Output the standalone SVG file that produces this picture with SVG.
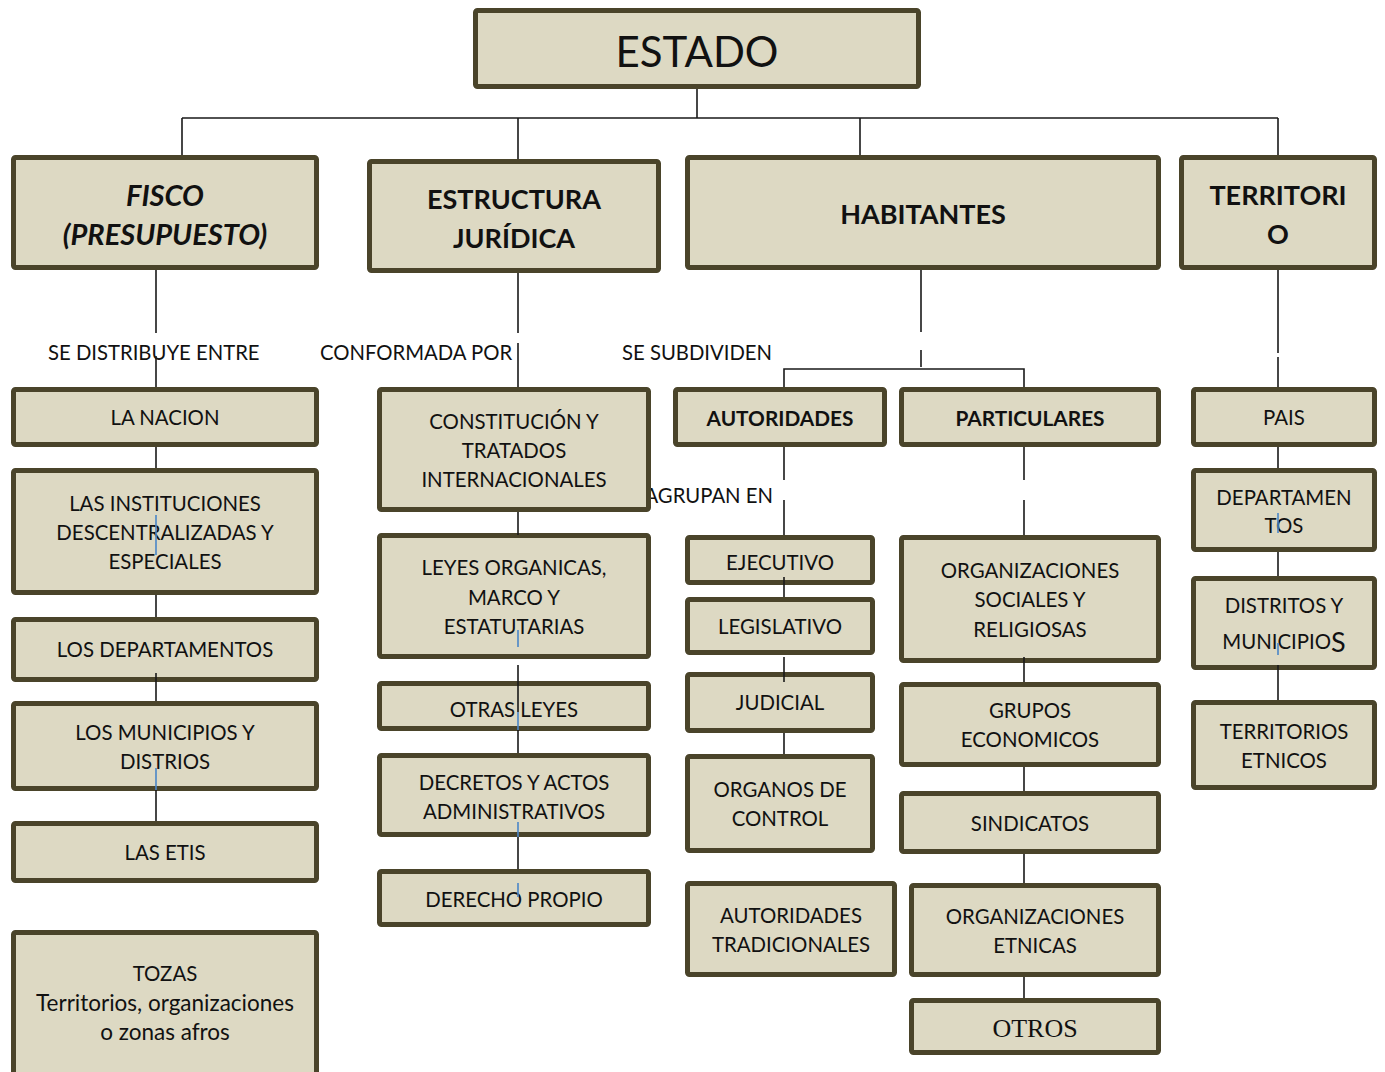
<svg xmlns="http://www.w3.org/2000/svg" width="1385" height="1072" viewBox="0 0 1385 1072">
<style>
.bx{fill:#DDD9C3;stroke:#4A442A;stroke-width:5;}
.t{font-family:Lato,"Open Sans","Liberation Sans",sans-serif;font-size:20.4px;fill:#111;text-anchor:middle;dominant-baseline:central;}
.h{font-weight:bold;font-size:27px;}
.hi{font-weight:bold;font-style:italic;font-size:29px;}
.hb{font-weight:bold;font-size:20.8px;}
.lbl{font-family:Lato,"Open Sans","Liberation Sans",sans-serif;font-size:20.3px;fill:#111;dominant-baseline:central;}
.c{stroke:#1a1a1a;stroke-width:1.6;fill:none;}
.b{stroke:#4A86C8;stroke-width:1.6;fill:none;}
</style>
<rect width="1385" height="1072" fill="#fff"/>
<g id="labels">
<text class="lbl" x="48" y="352">SE DISTRIBUYE ENTRE</text>
<text class="lbl" x="320" y="352">CONFORMADA POR</text>
<text class="lbl" x="622" y="352">SE SUBDIVIDEN</text>
<text class="lbl" x="773" y="495" text-anchor="end">AGRUPAN EN</text>
</g>
<g id="estado"><rect class="bx" x="475.5" y="10.5" width="443" height="76" rx="2"/><text class="t" x="697" y="51" style="font-size:42px">ESTADO</text></g>
<g id="fisco"><rect class="bx" x="13.5" y="157.5" width="303" height="110" rx="2"/><text class="t hi" x="165" y="194">FISCO</text><text class="t hi" x="165" y="233">(PRESUPUESTO)</text></g>
<g id="estructura"><rect class="bx" x="369.5" y="161.5" width="289" height="109" rx="2"/><text class="t h" x="514" y="198">ESTRUCTURA</text><text class="t h" x="514" y="237">JURÍDICA</text></g>
<g id="habitantes"><rect class="bx" x="687.5" y="157.5" width="471" height="110" rx="2"/><text class="t h" x="923" y="213">HABITANTES</text></g>
<g id="territorio"><rect class="bx" x="1181.5" y="157.5" width="193" height="110" rx="2"/><text class="t h" x="1278" y="194">TERRITORI</text><text class="t h" x="1278" y="233">O</text></g>

<g id="nacion"><rect class="bx" x="13.5" y="389.5" width="303" height="55" rx="2"/><text class="t" x="165" y="417">LA NACION</text></g>
<g id="instituciones"><rect class="bx" x="13.5" y="470.5" width="303" height="122" rx="2"/><text class="t" x="165" y="503">LAS INSTITUCIONES</text><text class="t" x="165" y="532">DESCENTRALIZADAS Y</text><text class="t" x="165" y="561">ESPECIALES</text></g>
<g id="departamentos"><rect class="bx" x="13.5" y="619.5" width="303" height="60" rx="2"/><text class="t" x="165" y="649">LOS DEPARTAMENTOS</text></g>
<g id="municipios"><rect class="bx" x="13.5" y="703.5" width="303" height="85" rx="2"/><text class="t" x="165" y="732">LOS MUNICIPIOS Y</text><text class="t" x="165" y="761">DISTRIOS</text></g>
<g id="etis"><rect class="bx" x="13.5" y="823.5" width="303" height="57" rx="2"/><text class="t" x="165" y="852">LAS ETIS</text></g>
<g id="tozas"><rect class="bx" x="13.5" y="932.5" width="303" height="145" rx="2"/><text class="t" x="165" y="973">TOZAS</text><text class="t" x="165" y="1002" style="font-size:22.5px">Territorios, organizaciones</text><text class="t" x="165" y="1031" style="font-size:22.5px">o zonas afros</text></g>

<g id="constitucion"><rect class="bx" x="379.5" y="389.5" width="269" height="120" rx="2"/><text class="t" x="514" y="421">CONSTITUCIÓN Y</text><text class="t" x="514" y="450">TRATADOS</text><text class="t" x="514" y="479">INTERNACIONALES</text></g>
<g id="leyes"><rect class="bx" x="379.5" y="535.5" width="269" height="121" rx="2"/><text class="t" x="514" y="567">LEYES ORGANICAS,</text><text class="t" x="514" y="597">MARCO Y</text><text class="t" x="514" y="626">ESTATUTARIAS</text></g>
<g id="otras"><rect class="bx" x="379.5" y="683.5" width="269" height="45" rx="2"/><text class="t" x="514" y="709">OTRAS LEYES</text></g>
<g id="decretos"><rect class="bx" x="379.5" y="755.5" width="269" height="79" rx="2"/><text class="t" x="514" y="782">DECRETOS Y ACTOS</text><text class="t" x="514" y="811">ADMINISTRATIVOS</text></g>
<g id="derecho"><rect class="bx" x="379.5" y="871.5" width="269" height="53" rx="2"/><text class="t" x="514" y="899">DERECHO PROPIO</text></g>

<g id="autoridades"><rect class="bx" x="675.5" y="389.5" width="209" height="55" rx="2"/><text class="t hb" x="780" y="417">AUTORIDADES</text></g>
<g id="particulares"><rect class="bx" x="901.5" y="389.5" width="257" height="55" rx="2"/><text class="t hb" x="1030" y="417">PARTICULARES</text></g>
<g id="ejecutivo"><rect class="bx" x="687.5" y="537.5" width="185" height="45" rx="2"/><text class="t" x="780" y="562">EJECUTIVO</text></g>
<g id="legislativo"><rect class="bx" x="687.5" y="599.5" width="185" height="53" rx="2"/><text class="t" x="780" y="626">LEGISLATIVO</text></g>
<g id="judicial"><rect class="bx" x="687.5" y="674.5" width="185" height="56" rx="2"/><text class="t" x="780" y="702">JUDICIAL</text></g>
<g id="organos"><rect class="bx" x="687.5" y="756.5" width="185" height="94" rx="2"/><text class="t" x="780" y="789">ORGANOS DE</text><text class="t" x="780" y="818">CONTROL</text></g>
<g id="tradicionales"><rect class="bx" x="687.5" y="883.5" width="207" height="91" rx="2"/><text class="t" x="791" y="915">AUTORIDADES</text><text class="t" x="791" y="944">TRADICIONALES</text></g>
<g id="orgsociales"><rect class="bx" x="901.5" y="537.5" width="257" height="123" rx="2"/><text class="t" x="1030" y="570">ORGANIZACIONES</text><text class="t" x="1030" y="599">SOCIALES Y</text><text class="t" x="1030" y="629">RELIGIOSAS</text></g>
<g id="grupos"><rect class="bx" x="901.5" y="684.5" width="257" height="80" rx="2"/><text class="t" x="1030" y="710">GRUPOS</text><text class="t" x="1030" y="739">ECONOMICOS</text></g>
<g id="sindicatos"><rect class="bx" x="901.5" y="793.5" width="257" height="58" rx="2"/><text class="t" x="1030" y="823">SINDICATOS</text></g>
<g id="orgetnicas"><rect class="bx" x="911.5" y="885.5" width="247" height="89" rx="2"/><text class="t" x="1035" y="916">ORGANIZACIONES</text><text class="t" x="1035" y="945">ETNICAS</text></g>
<g id="otros"><rect class="bx" x="911.5" y="1000.5" width="247" height="52" rx="2"/><text class="t" x="1035" y="1028" style="font-family:'Liberation Serif',serif;font-size:26px">OTROS</text></g>

<g id="pais"><rect class="bx" x="1193.5" y="389.5" width="181" height="55" rx="2"/><text class="t" x="1284" y="417">PAIS</text></g>
<g id="departamentos2"><rect class="bx" x="1193.5" y="470.5" width="181" height="79" rx="2"/><text class="t" x="1284" y="497">DEPARTAMEN</text><text class="t" x="1284" y="525">TOS</text></g>
<g id="distritos"><rect class="bx" x="1193.5" y="578.5" width="181" height="89" rx="2"/><text class="t" x="1284" y="605">DISTRITOS Y</text><text class="t" x="1284" y="641">MUNICIPIO<tspan style="font-size:27px">S</tspan></text></g>
<g id="etnicos"><rect class="bx" x="1193.5" y="702.5" width="181" height="85" rx="2"/><text class="t" x="1284" y="731">TERRITORIOS</text><text class="t" x="1284" y="760">ETNICOS</text></g>

<g id="connectors">
<path class="c" d="M697 89V118M182 118H1278M182 118V155M518 118V159M860 118V155M1278 118V155"/>
<path class="c" d="M156 270V333M156 356V387M518 273V333M518 343V387M921 270V332M921 350V367M784 387V369H1024V387M1278 270V353M1278 357V387"/>
<path class="c" d="M156 447V468M156 595V617M156 673V701M156 790V821"/>
<path class="b" d="M156 515V555M156 768V790"/>
<path class="c" d="M518 512V535M518 665V712M518 730V753M518 837V869"/>
<path class="b" d="M518 630V647M518 712V730M518 822V837M518 883V897"/>
<path class="c" d="M784 447V480M784 500V535M784 577V597M784 657V682M784 733V754"/>
<path class="c" d="M1024 447V480M1024 500V535M1024 657V682M1024 767V791M1024 854V883M1024 977V998"/>
<path class="c" d="M1278 447V468M1278 552V576M1278 665V700"/>
<path class="b" d="M1278 513V533M1278 643V655"/>
</g>
</svg>
